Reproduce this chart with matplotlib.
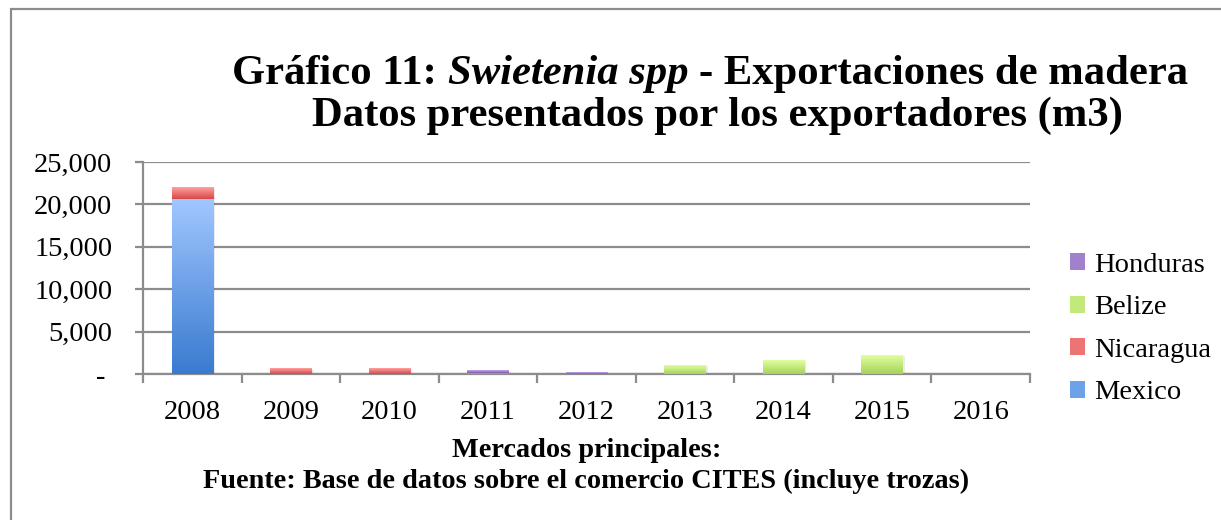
import numpy as np
import matplotlib
matplotlib.use("Agg")
import matplotlib.pyplot as plt
from matplotlib.colors import LinearSegmentedColormap
from matplotlib.patches import Rectangle
from matplotlib.ticker import FuncFormatter, FixedLocator

# === DATA (m3) ===
years = ["2008", "2009", "2010", "2011", "2012", "2013", "2014", "2015", "2016"]
mexico = [20600, 0, 0, 0, 0, 0, 0, 0, 0]
nicaragua = [1350, 590, 590, 80, 0, 0, 0, 0, 0]
belize = [0, 0, 0, 0, 0, 1020, 1620, 2200, 0]
honduras = [0, 0, 0, 280, 120, 0, 0, 0, 0]

series_names = ["Mexico", "Nicaragua", "Belize", "Honduras"]
series_values = [mexico, nicaragua, belize, honduras]
# (bottom colour, top colour) for the Excel-like gradient
series_colors = [("#3a7bd0", "#a0c6ff"),
                 ("#d84848", "#ffa0a0"),
                 ("#a6d35a", "#e0ffa0"),
                 ("#7a58a8", "#c8aaf2")]

W, H, DPI = 1221, 520, 100
plt.rcParams['font.family'] = ['Liberation Serif', 'DejaVu Serif']

fig = plt.figure(figsize=(W / DPI, H / DPI), dpi=DPI)
ax = fig.add_axes([143 / W, 1 - 374 / H, (1030 - 143) / W, (374 - 162) / H])

x = np.arange(len(years))
bottom = np.zeros(len(years))
grey = "#8c8c8c"


def mix(c0, c1):
    return tuple((int(c0[i:i + 2], 16) + int(c1[i:i + 2], 16)) / 510 for i in (1, 3, 5))


for name, vals, (c0, c1) in zip(series_names, series_values, series_colors):
    vals = np.array(vals, dtype=float)
    bars = ax.bar(x, vals, 0.42, bottom=bottom, color="none", edgecolor="none",
                  label=name, zorder=3)
    cmap = LinearSegmentedColormap.from_list(name, [c0, c1])
    grad = np.linspace(0, 1, 64).reshape(-1, 1)
    for p in bars.patches:
        if p.get_height() <= 0:
            continue
        # faint shadow
        ax.add_patch(Rectangle((p.get_x() + 0.02, p.get_y() - 120), p.get_width(),
                               p.get_height(), color="#000000", alpha=0.08,
                               zorder=2, linewidth=0))
        ax.imshow(grad, extent=[p.get_x(), p.get_x() + p.get_width(),
                                p.get_y(), p.get_y() + p.get_height()],
                  origin="lower", aspect="auto", cmap=cmap, zorder=3,
                  interpolation="bilinear")
    bottom += vals

ax.set_xlim(-0.5, len(years) - 0.5)
ax.set_ylim(0, 25000)
ax.set_yticks(np.arange(0, 25001, 5000))
ax.yaxis.set_major_formatter(FuncFormatter(lambda v, p: "- " if v == 0 else f"{v:,.0f}"))
ax.yaxis.grid(True, color=grey, linewidth=1.6, zorder=0)
ax.set_axisbelow(True)

ax.set_xticks(x)
ax.set_xticklabels(years)
ax.xaxis.set_minor_locator(FixedLocator(np.arange(-0.5, len(years), 1.0)))
ax.tick_params(axis="x", which="major", length=0, pad=19, labelsize=20.5)
ax.tick_params(axis="x", which="minor", length=6.5, width=1.6, color=grey)
ax.tick_params(axis="y", length=6, width=1.6, color=grey, pad=16, labelsize=20.5)

for s in ["top", "right"]:
    ax.spines[s].set_visible(False)
for s in ["left", "bottom"]:
    ax.spines[s].set_color(grey)
    ax.spines[s].set_linewidth(1.6)

# legend (reversed order, Honduras on top)
legend_handles = [Rectangle((0, 0), 1, 1, facecolor=mix(c0, c1), edgecolor="none")
                  for c0, c1 in series_colors]
leg = fig.legend(legend_handles[::-1], series_names[::-1], loc="center left",
                 bbox_to_anchor=(1044 / W, 1 - 329 / H), frameon=False, fontsize=20.5,
                 handlelength=0.55, handleheight=0.55, handletextpad=0.3,
                 labelspacing=0.62)

# axis caption (two bold lines centred under the plot)
cx = (143 + 1030) / 2 / W
fig.text(cx, 1 - 457 / H, "Mercados principales:", fontsize=20.3,
         fontweight="bold", ha="center", va="baseline")
fig.text(cx, 1 - 488 / H, "Fuente: Base de datos sobre el comercio CITES (incluye trozas)",
         fontsize=20.3, fontweight="bold", ha="center", va="baseline")

# title with mixed bold / bold-italic pieces
renderer = fig.canvas.get_renderer()


def rich_line(parts, y_px, center_px, size=30.7):
    texts = []
    for s, style in parts:
        t = fig.text(0, 1 - y_px / H, s, fontsize=size, fontweight="bold",
                     fontstyle=style, va="baseline", ha="left")
        texts.append(t)
    gap = size * DPI / 72 * 0.25
    widths = [t.get_window_extent(renderer).width for t in texts]
    total = sum(widths) + gap * (len(texts) - 1)
    xpos = center_px - total / 2
    for t, w in zip(texts, widths):
        t.set_x(xpos / W)
        xpos += w + gap


rich_line([("Gráfico 11:", "normal"), ("Swietenia spp", "italic"),
           ("- Exportaciones de madera", "normal")], 84, 710)
rich_line([("Datos presentados por los exportadores (m3)", "normal")], 126, 717)

# outer frame
fig.add_artist(Rectangle((11 / W, -0.1), 1.2, 1 - 9 / H + 0.1, transform=fig.transFigure,
                         fill=False, edgecolor=grey, linewidth=1.6))

fig.savefig("out.png", dpi=DPI)
